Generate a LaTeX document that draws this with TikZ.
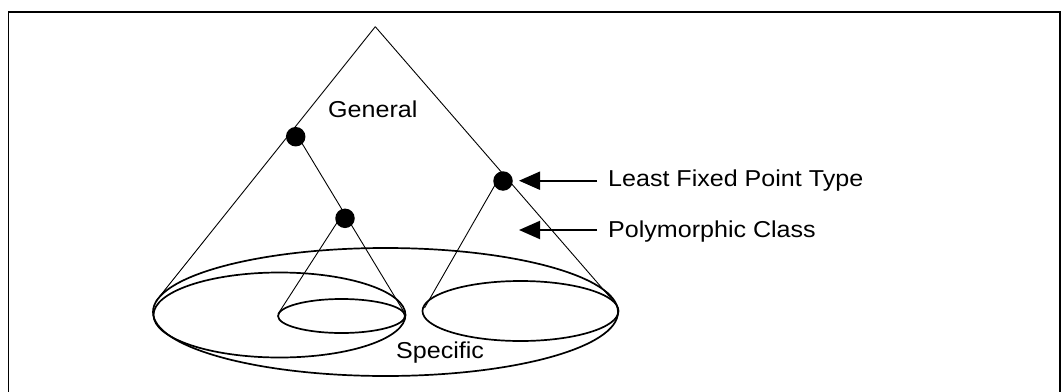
\documentclass[tikz,border=0pt]{standalone}
\usepackage{fontspec}
\setmainfont{Liberation Sans}
\usetikzlibrary{arrows.meta}
\newcommand{\widetext}[1]{\scalebox{1.09}[1]{#1}}
\tikzset{
  frame/.style={line width=1.5pt},
  rim/.style={line width=1.7pt},
  coneline/.style={line width=0.9pt},
  dotnode/.style={circle, fill=black, draw=none, inner sep=0pt, minimum size=19.5pt},
  pointer/.style={line width=2pt, -{Triangle[length=21pt,width=18pt]}},
  lbl/.style={inner sep=0pt, anchor=base west, font=\fontsize{23pt}{27pt}\selectfont}
}
\begin{document}
\begin{tikzpicture}[x=1pt,y=-1pt]
\useasboundingbox (0,0) rectangle (1063,391);
% frame
\draw[frame] (8.5,420) -- (8.5,12) -- (1060,12) -- (1060,420);
% base ellipses
\draw[rim] (385.5,312) ellipse [x radius=232.5, y radius=64];
\draw[rim] (279.5,315) ellipse [x radius=126, y radius=42.5];
\draw[rim] (341.5,316) ellipse [x radius=63.5, y radius=17];
\draw[rim] (520.5,311) ellipse [x radius=98, y radius=30];
% coordinates
\coordinate (apex) at (375.3,26.7);
\coordinate (bigL) at (156,301);
\coordinate (bigR) at (615,303);
\coordinate (aStart) at (300,140);
\coordinate (midR) at (404,312);
\coordinate (bStart) at (340,218);
\coordinate (smallL) at (278,314);
\coordinate (cStart) at (495,185);
\coordinate (rightL) at (424.5,308);
% cone lines
\draw[coneline] (apex) -- (bigL);
\draw[coneline] (apex) -- (bigR);
\draw[coneline] (aStart) -- (midR);
\draw[coneline] (bStart) -- (smallL);
\draw[coneline] (cStart) -- (rightL);
% dots
\node[dotnode] (A) at (295.7,136.7) {};
\node[dotnode] (B) at (345,218.3) {};
\node[dotnode] (C) at (503,181) {};
% labels
\node[lbl] (general) at (328,117) {\widetext{General}};
\node[lbl] (specific) at (396,358.3) {\widetext{Specific}};
\node[lbl] (lfp) at (608,186.7) {\widetext{Least Fixed Point Type}};
\node[lbl] (poly) at (608,237.3) {\widetext{Polymorphic Class}};
% arrows
\coordinate (lfpTail) at (597,180.7);
\coordinate (lfpTip) at (519,180.7);
\coordinate (polyTail) at (597,230);
\coordinate (polyTip) at (519,230);
\draw[pointer] (lfpTail) -- (lfpTip);
\draw[pointer] (polyTail) -- (polyTip);
\end{tikzpicture}
\end{document}
